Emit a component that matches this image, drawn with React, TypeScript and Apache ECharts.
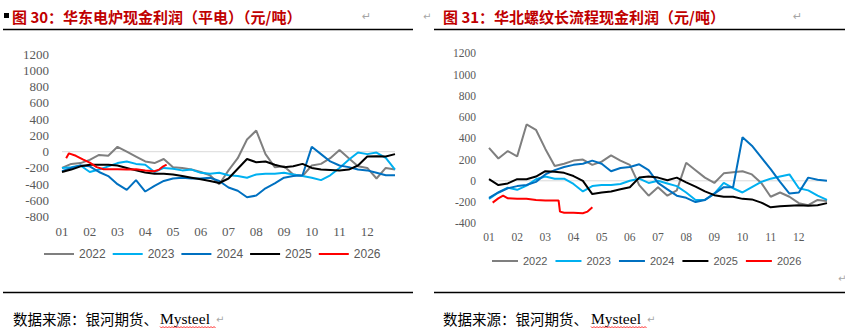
import React, { useEffect, useRef } from "react";
import * as echarts from "echarts";

const years = ["2022", "2023", "2024", "2025", "2026"];
const colors = ["#7f7f7f", "#00b0f0", "#0070c0", "#000000", "#ff0000"];
const monthLabels = ["01", "02", "03", "04", "05", "06", "07", "08", "09", "10", "11", "12"];

// sampling times in months from Jan 1 (every third of a month)
const t = Array.from({ length: 37 }, (_, i) => i / 3);

// 华东电炉现金利润（平电）
const eaf2022 = [-200, -150, -140, -100, -40, -50, 60, 0, -60, -120, -140, -90, -190, -200, -220, -250, -290, -400, -230, -80, 150, 260, -30, -190, -180, -280, -300, -170, -150, -80, 20, -80, -180, -200, -330, -200, -220];
const eaf2023 = [-200, -190, -170, -250, -220, -180, -140, -120, -150, -160, -250, -200, -210, -230, -220, -260, -270, -260, -290, -300, -320, -280, -270, -270, -260, -280, -300, -320, -350, -290, -200, -100, -10, -30, -10, -75, -220];
const eaf2024 = [-240, -200, -170, -180, -250, -300, -400, -470, -350, -490, -420, -360, -330, -320, -330, -330, -320, -360, -440, -480, -560, -540, -450, -390, -320, -300, -290, 60, -30, -120, -170, -190, -220, -230, -260, -290, -290];
const eaf2025 = [-250, -220, -180, -160, -160, -160, -170, -200, -230, -255, -270, -270, -280, -300, -320, -340, -360, -385, -330, -210, -90, -130, -120, -160, -190, -180, -150, -200, -220, -225, -230, -220, -170, -60, -55, -60, -30];
const eaf2026T = [0.15, 0.25, 0.5, 0.75, 1.0, 1.25, 1.5, 1.75, 2.0, 2.33, 2.67, 3.0, 3.33, 3.5, 3.65, 3.77];
const eaf2026 = [-80, -20, -50, -95, -135, -190, -215, -215, -215, -220, -215, -230, -240, -220, -180, -160];

// 华北螺纹长流程现金利润
const bf2022 = [310, 210, 280, 230, 530, 480, 300, 140, 160, 190, 200, 150, 180, 240, 190, 150, -40, -140, -60, -140, -90, 170, 100, 30, -20, 70, 80, 90, 60, -20, -150, -110, -150, -210, -230, -180, -190];
const bf2023 = [-170, -110, -65, -85, -45, 15, 40, 20, 20, -30, -100, -50, -40, -40, -30, 0, 20, -20, 0, -25, -50, -110, -180, -180, -120, -20, -70, -110, -60, -10, 20, 40, 60, -70, -90, -140, -180];
const bf2024 = [-160, -110, -70, -50, -40, -10, 60, 100, 130, 150, 160, 190, 160, 90, 120, 130, 155, 100, -20, -80, -140, -160, -200, -180, -120, -60, -60, 410, 330, 220, 110, -10, -120, -110, 30, 10, 0];
const bf2025 = [15, -40, -25, 15, 15, 40, 90, 85, 75, 45, 0, -125, -110, -100, -80, -60, 30, 40, 30, 5, 30, -15, -55, -100, -135, -150, -150, -170, -175, -205, -250, -240, -235, -230, -235, -230, -210];
const bf2026T = [0.13, 0.33, 0.5, 0.67, 1.0, 1.33, 1.67, 2.0, 2.33, 2.47, 2.52, 2.67, 3.0, 3.33, 3.5, 3.67];
const bf2026 = [-205, -165, -140, -165, -170, -170, -180, -185, -185, -185, -290, -300, -300, -305, -290, -250];

const leftTitle = "图 30：华东电炉现金利润（平电）（元/吨）";
const rightTitle = "图 31：华北螺纹长流程现金利润（元/吨）";
const sourceCn = "数据来源：银河期货、";
const sourceEn = "Mysteel";

function pairs(xs: number[], ys: number[]) {
  return ys.map((y, i) => [xs[i], y]);
}

export default function App() {
  const ref = useRef<HTMLDivElement>(null);
  useEffect(() => {
    if (!ref.current) return;
    const chart = echarts.init(ref.current, undefined, { renderer: "svg" });

    const leftData = [pairs(t, eaf2022), pairs(t, eaf2023), pairs(t, eaf2024), pairs(t, eaf2025), pairs(eaf2026T, eaf2026)];
    const rightData = [pairs(t, bf2022), pairs(t, bf2023), pairs(t, bf2024), pairs(t, bf2025), pairs(bf2026T, bf2026)];

    const series: any[] = [];
    [leftData, rightData].forEach((set, ax) => {
      series.push({
        name: "zero" + ax,
        type: "line",
        xAxisIndex: ax,
        yAxisIndex: ax,
        data: [[0, 0], [12, 0]],
        symbol: "none",
        silent: true,
        lineStyle: { color: "#d9d9d9", width: 1 },
        z: 1,
      });
      set.forEach((d, i) => {
        series.push({
          name: years[i],
          type: "line",
          xAxisIndex: ax,
          yAxisIndex: ax,
          data: d,
          symbol: "none",
          showSymbol: false,
          lineStyle: { color: colors[i], width: 2 },
          itemStyle: { color: colors[i] },
          z: 3 + i,
        });
      });
    });

    const xAxisBase = (gi: number, fs: number) => ({
      type: "value",
      gridIndex: gi,
      min: 0,
      max: 12,
      interval: 1,
      axisLine: { show: false },
      axisTick: { show: false },
      splitLine: { show: false },
      axisLabel: {
        formatter: (v: number) => (v < 12 ? monthLabels[Math.round(v)] : ""),
        fontFamily: "Liberation Serif",
        fontSize: fs,
        color: "#595959",
        margin: 8,
        showMaxLabel: false,
      },
    });
    const yAxisBase = (gi: number, min: number, max: number, fs: number) => ({
      type: "value",
      gridIndex: gi,
      min,
      max,
      interval: 200,
      axisLine: { show: false },
      axisTick: { show: false },
      splitLine: { show: false },
      axisLabel: {
        formatter: (v: number) => String(v),
        fontFamily: "Liberation Serif",
        fontSize: fs,
        color: "#595959",
        margin: 13,
      },
    });

    const wave = (x0: number, x1: number, y: number) => {
      const pts: number[][] = [];
      let k = 0;
      for (let x = x0; x <= x1; x += 1.5) {
        pts.push([x, k % 2 === 0 ? y : y + 1.5]);
        k++;
      }
      return pts;
    };

    const mid = { verticalAlign: "middle", textVerticalAlign: "middle" };
    const graphic: any[] = [
      { type: "rect", shape: { x: 4, y: 13, width: 5, height: 5 }, style: { fill: "#000" } },
      { type: "text", x: 12, y: 16.5, style: { text: leftTitle, font: 'bold 15px "Noto Sans CJK SC"', fill: "#c00000", ...mid } },
      { type: "text", x: 362, y: 16, style: { text: "↵", font: '11px "DejaVu Sans"', fill: "#a6a6a6", ...mid } },
      { type: "line", shape: { x1: 3, y1: 29.5, x2: 413, y2: 29.5 }, style: { stroke: "#000", lineWidth: 1.5 } },
      { type: "line", shape: { x1: 3, y1: 292.5, x2: 413, y2: 292.5 }, style: { stroke: "#000", lineWidth: 1.5 } },
      { type: "text", x: 13, y: 318, style: { text: sourceCn, font: '14.5px "Noto Sans CJK SC"', fill: "#000", ...mid } },
      { type: "text", x: 160, y: 318, style: { text: sourceEn, font: '15.5px "Liberation Serif"', fill: "#000", ...mid } },
      { type: "text", x: 216, y: 319, style: { text: "↵", font: '10px "DejaVu Sans"', fill: "#a6a6a6", ...mid } },
      { type: "polyline", shape: { points: wave(160, 216, 326.5) }, style: { stroke: "#ff0000", lineWidth: 0.8, fill: null } },

      { type: "text", x: 423, y: 16, style: { text: "↵", font: '10px "DejaVu Sans"', fill: "#a6a6a6", ...mid } },
      { type: "text", x: 443, y: 16.5, style: { text: rightTitle, font: 'bold 15px "Noto Sans CJK SC"', fill: "#c00000", ...mid } },
      { type: "text", x: 793, y: 16, style: { text: "↵", font: '11px "DejaVu Sans"', fill: "#a6a6a6", ...mid } },
      { type: "line", shape: { x1: 434, y1: 29.5, x2: 845, y2: 29.5 }, style: { stroke: "#000", lineWidth: 1.5 } },
      { type: "line", shape: { x1: 434, y1: 292.5, x2: 845, y2: 292.5 }, style: { stroke: "#000", lineWidth: 1.5 } },
      { type: "text", x: 838, y: 278, style: { text: "↵", font: '10px "DejaVu Sans"', fill: "#a6a6a6", ...mid } },
      { type: "text", x: 443, y: 318, style: { text: sourceCn, font: '14.5px "Noto Sans CJK SC"', fill: "#000", ...mid } },
      { type: "text", x: 591, y: 318, style: { text: sourceEn, font: '15.5px "Liberation Serif"', fill: "#000", ...mid } },
      { type: "text", x: 647, y: 319, style: { text: "↵", font: '10px "DejaVu Sans"', fill: "#a6a6a6", ...mid } },
      { type: "polyline", shape: { points: wave(591, 647, 326.5) }, style: { stroke: "#ff0000", lineWidth: 0.8, fill: null } },
    ];

    chart.setOption({
      animation: false,
      backgroundColor: "#ffffff",
      grid: [
        { left: 62, top: 54.2, width: 333, height: 162.5 },
        { left: 489, top: 53.3, width: 338, height: 170 },
      ],
      xAxis: [xAxisBase(0, 13), xAxisBase(1, 11.5)],
      yAxis: [yAxisBase(0, -800, 1200, 13), yAxisBase(1, -400, 1200, 11.5)],
      legend: [
        {
          data: years,
          left: 44,
          top: 248,
          padding: 0,
          icon: "rect",
          itemWidth: 30,
          itemHeight: 2,
          itemGap: 7,
          selectedMode: false,
          textStyle: { fontFamily: "Liberation Sans", fontSize: 12, color: "#595959" },
        },
        {
          data: years,
          left: 492,
          top: 255.5,
          padding: 0,
          icon: "rect",
          itemWidth: 26,
          itemHeight: 2,
          itemGap: 8,
          selectedMode: false,
          textStyle: { fontFamily: "Liberation Sans", fontSize: 11, color: "#595959" },
        },
      ],
      series,
      graphic: { elements: graphic },
    });
    return () => chart.dispose();
  }, []);
  return <div ref={ref} style={{ position: "absolute", left: 0, top: 0, width: 845, height: 332 }} />;
}
